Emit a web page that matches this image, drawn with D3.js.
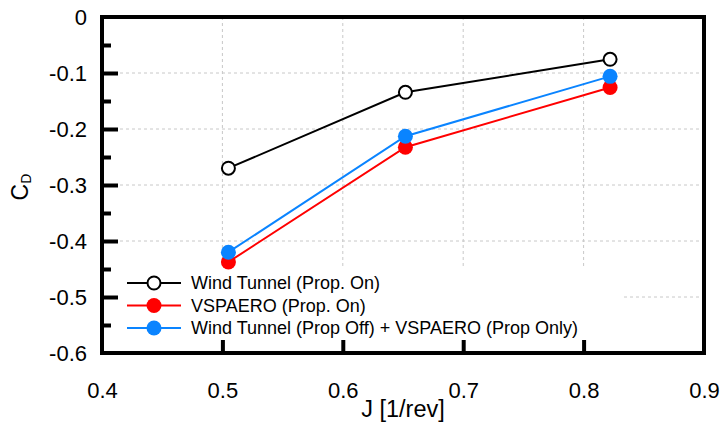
<!DOCTYPE html>
<html><head><meta charset="utf-8">
<script src="https://cdn.jsdelivr.net/npm/d3@7"></script>
<style>body{margin:0;background:#fff}svg text{font-family:"Liberation Sans",Arial,sans-serif}</style>
</head><body><svg id="c" width="726" height="430"></svg>
<script>
const J = [0.505, 0.652, 0.822];
const windTunnel = [-0.270, -0.1345, -0.0755];
const vspaero = [-0.4375, -0.2325, -0.126];
const combined = [-0.420, -0.213, -0.106];
const xTicks = [0.4, 0.5, 0.6, 0.7, 0.8, 0.9];
const yTicks = [0, -0.1, -0.2, -0.3, -0.4, -0.5, -0.6];
const yMinor = [-0.05, -0.15, -0.25, -0.35, -0.45, -0.55];
const seriesNames = ["Wind Tunnel (Prop. On)", "VSPAERO (Prop. On)", "Wind Tunnel (Prop Off) + VSPAERO (Prop Only)"];
const seriesColors = ["#000000", "#ff0000", "#0a84ff"];

const svg = d3.select("#c");
const L = 102, R = 704, T = 17, B = 353;
const x = d3.scaleLinear().domain([0.4, 0.9]).range([L, R]);
const y = d3.scaleLinear().domain([-0.6, 0]).range([B, T]);
const fmt = d => d === 0 ? "0" : d.toFixed(1);

// grid
const g = svg.append("g");
g.selectAll(".vg").data(xTicks.slice(1, -1)).enter().append("line")
  .attr("x1", d => x(d)).attr("x2", d => x(d)).attr("y1", T).attr("y2", B)
  .attr("stroke", "#c8c8c8").attr("stroke-width", 1).attr("stroke-dasharray", "3,3");
g.selectAll(".hg").data(yTicks.slice(1, -1)).enter().append("line")
  .attr("y1", d => y(d)).attr("y2", d => y(d)).attr("x1", L).attr("x2", R)
  .attr("stroke", "#c8c8c8").attr("stroke-width", 1).attr("stroke-dasharray", "3,3");

// legend background
svg.append("rect").attr("x", 118).attr("y", 268).attr("width", 506).attr("height", 72).attr("fill", "#fff");

// axes ticks (inward)
const xAxis = d3.axisBottom(x).tickValues(xTicks).tickSize(-13).tickFormat(fmt);
const xa = svg.append("g").attr("transform", `translate(0,${B})`).call(xAxis);
xa.select(".domain").remove();
xa.selectAll(".tick line").attr("stroke", "#000").attr("stroke-width", 4)
  .attr("display", d => (d === 0.4 || d === 0.9) ? "none" : null);
xa.selectAll(".tick text").attr("font-size", 22).attr("fill", "#000").attr("y", 45).attr("dy", 0);

const yAxis = d3.axisLeft(y).tickValues(yTicks).tickSize(-16).tickPadding(15).tickFormat(fmt);
const ya = svg.append("g").attr("transform", `translate(${L},0)`).call(yAxis);
ya.select(".domain").remove();
ya.selectAll(".tick line").attr("stroke", "#000").attr("stroke-width", 4)
  .attr("display", d => (d === 0 || d === -0.6) ? "none" : null);
ya.selectAll(".tick text").attr("font-size", 22).attr("fill", "#000");
const yAxisMinor = d3.axisLeft(y).tickValues(yMinor).tickSize(-9).tickFormat("");
const ym = svg.append("g").attr("transform", `translate(${L},0)`).call(yAxisMinor);
ym.select(".domain").remove();
ym.selectAll(".tick line").attr("stroke", "#000").attr("stroke-width", 4);

// frame
svg.append("rect").attr("x", L).attr("y", T).attr("width", R - L).attr("height", B - T)
  .attr("fill", "none").attr("stroke", "#000").attr("stroke-width", 4);

// axis titles
svg.append("text").attr("x", x(0.65)).attr("y", 417).attr("text-anchor", "middle")
  .attr("font-size", 23.5).text("J [1/rev]");
const yt = svg.append("text").attr("transform", `translate(28,187) rotate(-90)`)
  .attr("text-anchor", "middle").attr("font-size", 23);
yt.append("tspan").text("C");
yt.append("tspan").attr("font-size", 14).attr("dy", 3).text("D");

// series
const line = d3.line().x(d => x(d[0])).y(d => y(d[1]));
const data = [windTunnel, vspaero, combined];
[1, 2, 0].forEach(i => {
  const pts = J.map((j, k) => [j, data[i][k]]);
  svg.append("path").attr("d", line(pts)).attr("fill", "none")
    .attr("stroke", seriesColors[i]).attr("stroke-width", 2);
  svg.selectAll(null).data(pts).enter().append("circle")
    .attr("cx", d => x(d[0])).attr("cy", d => y(d[1]))
    .attr("r", i === 0 ? 6.5 : 7.5)
    .attr("fill", i === 0 ? "#fff" : seriesColors[i])
    .attr("stroke", i === 0 ? "#000" : "none").attr("stroke-width", 2);
});

// legend
seriesNames.forEach((name, i) => {
  const ly = 283 + i * 22.5;
  svg.append("line").attr("x1", 127).attr("x2", 181).attr("y1", ly).attr("y2", ly)
    .attr("stroke", seriesColors[i]).attr("stroke-width", 2);
  svg.append("circle").attr("cx", 154).attr("cy", ly).attr("r", i === 0 ? 6.5 : 7.5)
    .attr("fill", i === 0 ? "#fff" : seriesColors[i])
    .attr("stroke", i === 0 ? "#000" : "none").attr("stroke-width", 2);
  svg.append("text").attr("x", 191).attr("y", ly).attr("dy", "0.35em")
    .attr("font-size", 18).text(name);
});
</script></body></html>
